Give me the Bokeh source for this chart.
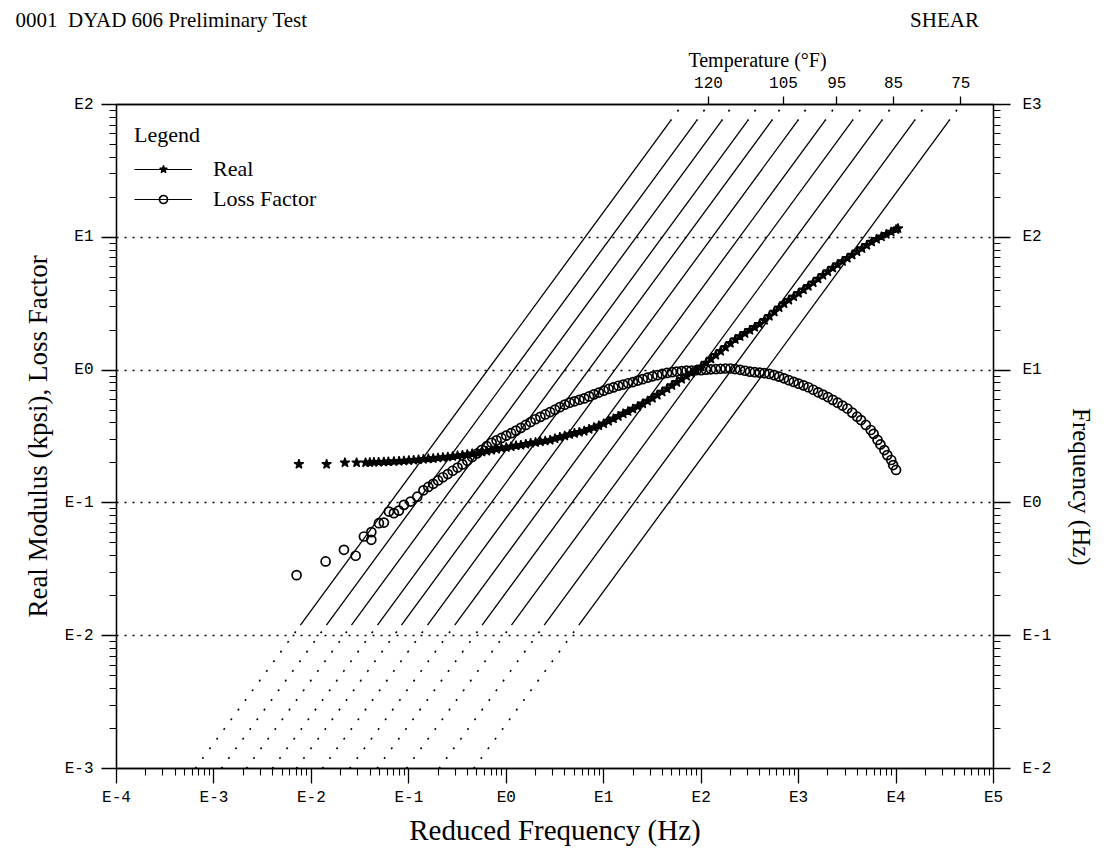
import math
from bokeh.plotting import figure
from bokeh.models import (Range1d, LogScale, LinearScale, LogAxis, LinearAxis, FixedTicker,
                          CustomJSTickFormatter, Legend, LegendItem)
from bokeh.embed import file_html
from bokeh.resources import INLINE

# Temperature lines (deg F) and their log10 shift factors a_T
temperatures_f = [125, 120, 115, 110, 105, 100, 95, 90, 85, 80, 75]
log_shift = [-1.192, -0.925, -0.668, -0.401, -0.155, 0.112, 0.392, 0.673, 0.974, 1.310, 1.665]
labelled_temps = [120, 105, 95, 85, 75]

# Tested frequency band (Hz) -> solid part of each isotherm; frequency axis span (Hz)
test_freq_min = 0.12
test_freq_max = 750.0
freq_axis_min = 0.01
freq_axis_max = 1000.0

# Real modulus (kpsi): (log10 reduced frequency, log10 modulus)
real_points = [
    (-2.128, -0.709), (-1.844, -0.709), (-1.656, -0.697), (-1.536, -0.697), (-1.444, -0.697),
    (-1.400, -0.695), (-1.358, -0.694), (-1.310, -0.693), (-1.256, -0.692), (-1.210, -0.690),
    (-1.153, -0.688), (-1.100, -0.686), (-1.050, -0.684),
    (-1.00, -0.681), (-0.95, -0.678), (-0.90, -0.675), (-0.85, -0.671), (-0.80, -0.668),
    (-0.75, -0.665), (-0.70, -0.661), (-0.65, -0.658), (-0.60, -0.654), (-0.55, -0.650),
    (-0.50, -0.645), (-0.45, -0.640), (-0.40, -0.635), (-0.35, -0.630), (-0.30, -0.623),
    (-0.25, -0.617), (-0.20, -0.610), (-0.15, -0.603), (-0.10, -0.595), (-0.05, -0.588),
    (0.00, -0.582), (0.05, -0.576), (0.10, -0.570), (0.15, -0.565), (0.20, -0.558),
    (0.25, -0.551), (0.30, -0.545), (0.35, -0.539), (0.40, -0.533), (0.45, -0.527),
    (0.50, -0.516), (0.55, -0.506), (0.60, -0.495), (0.65, -0.485), (0.70, -0.476),
    (0.75, -0.467), (0.80, -0.459), (0.85, -0.445), (0.90, -0.432), (0.95, -0.419),
    (1.00, -0.403), (1.05, -0.384), (1.10, -0.366), (1.15, -0.348), (1.20, -0.329),
    (1.25, -0.311), (1.30, -0.293), (1.35, -0.273), (1.40, -0.253), (1.45, -0.233),
    (1.50, -0.212), (1.55, -0.188), (1.60, -0.164), (1.65, -0.140), (1.70, -0.116),
    (1.75, -0.092), (1.80, -0.068), (1.85, -0.045), (1.90, -0.022), (1.95, 0.000),
    (2.00, 0.025), (2.05, 0.054), (2.10, 0.084), (2.15, 0.113), (2.20, 0.143),
    (2.25, 0.172), (2.30, 0.202), (2.35, 0.231), (2.40, 0.254), (2.45, 0.277),
    (2.50, 0.300), (2.55, 0.323), (2.60, 0.346), (2.65, 0.375), (2.70, 0.406),
    (2.75, 0.438), (2.80, 0.470), (2.85, 0.501), (2.90, 0.527), (2.95, 0.553),
    (3.00, 0.579), (3.05, 0.605), (3.10, 0.631), (3.15, 0.659), (3.20, 0.686),
    (3.25, 0.714), (3.30, 0.742), (3.35, 0.769), (3.40, 0.795), (3.45, 0.819),
    (3.50, 0.843), (3.55, 0.867), (3.60, 0.892), (3.65, 0.916), (3.70, 0.940),
    (3.75, 0.965), (3.80, 0.986), (3.85, 1.004), (3.90, 1.023), (3.95, 1.041),
    (4.00, 1.059), (4.02, 1.066),
]

# Loss factor: (log10 reduced frequency, log10 loss factor)
loss_points = [
    (-2.152, -1.544), (-1.854, -1.441), (-1.666, -1.353), (-1.546, -1.398), (-1.461, -1.253),
    (-1.385, -1.278), (-1.385, -1.220), (-1.307, -1.153), (-1.256, -1.148), (-1.204, -1.065),
    (-1.153, -1.077), (-1.102, -1.058), (-1.050, -1.015), (-0.982, -0.990), (-0.913, -0.953),
    (-0.85, -0.905), (-0.80, -0.880), (-0.75, -0.856), (-0.70, -0.831), (-0.65, -0.807),
    (-0.60, -0.783), (-0.55, -0.758), (-0.50, -0.734), (-0.45, -0.710), (-0.40, -0.683),
    (-0.35, -0.655), (-0.30, -0.628), (-0.25, -0.600), (-0.20, -0.573), (-0.15, -0.547),
    (-0.10, -0.529), (-0.05, -0.511), (0.00, -0.493), (0.05, -0.475), (0.10, -0.456),
    (0.15, -0.435), (0.20, -0.413), (0.25, -0.391), (0.30, -0.370), (0.35, -0.352),
    (0.40, -0.334), (0.45, -0.316), (0.50, -0.298), (0.55, -0.279), (0.60, -0.260),
    (0.65, -0.245), (0.70, -0.235), (0.75, -0.224), (0.80, -0.213), (0.85, -0.198),
    (0.90, -0.183), (0.95, -0.169), (1.00, -0.155), (1.05, -0.142), (1.10, -0.130),
    (1.15, -0.118), (1.20, -0.109), (1.25, -0.099), (1.30, -0.090), (1.35, -0.079),
    (1.40, -0.068), (1.45, -0.057), (1.50, -0.047), (1.55, -0.038), (1.60, -0.029),
    (1.65, -0.021), (1.70, -0.016), (1.75, -0.011), (1.80, -0.007), (1.85, -0.004),
    (1.90, -0.003), (1.95, -0.001), (2.00, 0.000), (2.05, 0.003), (2.10, 0.006),
    (2.15, 0.008), (2.20, 0.010), (2.25, 0.012), (2.30, 0.012), (2.35, 0.008),
    (2.40, 0.002), (2.45, -0.005), (2.50, -0.012), (2.55, -0.016), (2.60, -0.019),
    (2.65, -0.023), (2.70, -0.029), (2.75, -0.038), (2.80, -0.049), (2.85, -0.062),
    (2.90, -0.076), (2.95, -0.089), (3.00, -0.102), (3.05, -0.115), (3.10, -0.129),
    (3.15, -0.148), (3.20, -0.167), (3.25, -0.184), (3.30, -0.203), (3.35, -0.224),
    (3.40, -0.245), (3.45, -0.267), (3.50, -0.289), (3.55, -0.320), (3.60, -0.351),
    (3.64, -0.376), (3.69, -0.413), (3.74, -0.451), (3.77, -0.480), (3.81, -0.526),
    (3.84, -0.560), (3.88, -0.602), (3.91, -0.640), (3.95, -0.677), (3.97, -0.715),
    (4.00, -0.752),
]

# Header texts and their horizontal centres (page pixels)
header_texts = ["0001\u00a0 DYAD 606 Preliminary Test", "SHEAR"]
header_centres = [161, 944]
temp_caption = "Temperature (\u00b0F)"
temp_caption_centre = 757
freq_caption = "Frequency (Hz)"
freq_caption_centre = 408

SERIF = "Liberation Serif"
MONO = "Liberation Mono"
FRAME_LEFT, FRAME_RIGHT, FRAME_TOP, FRAME_BOTTOM = 116, 993, 104, 769

p = figure(width=1111, height=848, x_axis_type="log", y_axis_type="log",
           x_range=Range1d(1e-4, 1e5), y_range=Range1d(1e-3, 1e2),
           output_backend="svg", toolbar_location=None,
           min_border_left=FRAME_LEFT, min_border_right=1111 - FRAME_RIGHT,
           min_border_top=FRAME_TOP, min_border_bottom=848 - FRAME_BOTTOM)
p.extra_y_ranges = {"freq": Range1d(freq_axis_min, freq_axis_max),
                    "pagey": Range1d(FRAME_BOTTOM, FRAME_TOP)}
p.extra_y_scales = {"freq": LogScale(), "pagey": LinearScale()}
p.extra_x_ranges = {"page": Range1d(FRAME_LEFT, FRAME_RIGHT)}
p.extra_x_scales = {"page": LinearScale()}
p.background_fill_color = "white"
p.border_fill_color = "white"
p.outline_line_color = "black"
p.outline_line_width = 1.3

decade_fmt = CustomJSTickFormatter(code="return 'E' + Math.round(Math.log10(tick));")
nearest_code = """
let best = 0, bd = Infinity;
for (let i = 0; i < pos.length; i++) {
  const d = Math.abs(pos[i] - tick);
  if (d < bd) { bd = d; best = i; }
}
return lab[best];
"""


def decade_ticker(lo, hi):
    majors = [10.0 ** k for k in range(lo, hi + 1)]
    minors = [m * 10.0 ** k for k in range(lo, hi) for m in range(2, 10)]
    return FixedTicker(ticks=majors, minor_ticks=minors)


def style_axis(ax, tick_out=15, minor_out=7):
    ax.axis_line_color = "black"
    ax.axis_line_width = 1.3
    ax.major_tick_line_color = "black"
    ax.major_tick_line_width = 1.3
    ax.minor_tick_line_color = "black"
    ax.minor_tick_line_width = 1.1
    ax.major_tick_in = 0
    ax.major_tick_out = tick_out
    ax.minor_tick_in = 0
    ax.minor_tick_out = minor_out
    ax.major_label_text_font = MONO
    ax.major_label_text_font_size = "16px"
    ax.major_label_text_color = "black"
    ax.axis_label_text_font = SERIF
    ax.axis_label_text_font_style = "normal"
    ax.axis_label_text_color = "black"


def text_row(texts, centres, size, standoff, vertical=False):
    """A bare axis whose tick labels carry free-standing texts."""
    ticker = FixedTicker(ticks=centres, minor_ticks=[])
    fmt = CustomJSTickFormatter(args=dict(pos=centres, lab=texts), code=nearest_code)
    if vertical:
        ax = LinearAxis(y_range_name="pagey", ticker=ticker, formatter=fmt)
        ax.major_label_orientation = -math.pi / 2
    else:
        ax = LinearAxis(x_range_name="page", ticker=ticker, formatter=fmt)
    ax.axis_line_color = None
    ax.major_tick_line_color = None
    ax.minor_tick_line_color = None
    ax.major_tick_out = 0
    ax.minor_tick_out = 0
    ax.major_label_standoff = standoff
    ax.major_label_text_font = SERIF
    ax.major_label_text_font_size = size
    ax.major_label_text_color = "black"
    return ax


xa = p.xaxis[0]
xa.ticker = decade_ticker(-4, 5)
xa.formatter = decade_fmt
style_axis(xa)
xa.major_label_standoff = 5
xa.axis_label = "Reduced Frequency (Hz)"
xa.axis_label_text_font_size = "29px"
xa.axis_label_standoff = 4

ya = p.yaxis[0]
ya.ticker = decade_ticker(-3, 2)
ya.formatter = decade_fmt
style_axis(ya)
ya.major_label_standoff = 8
ya.axis_label = "Real Modulus (kpsi), Loss Factor"
ya.axis_label_text_font_size = "27px"
ya.axis_label_standoff = 9

ra = LogAxis(y_range_name="freq", ticker=decade_ticker(-2, 3), formatter=decade_fmt)
style_axis(ra, tick_out=17)
ra.major_label_standoff = 12
p.add_layout(ra, "right")
p.add_layout(text_row([freq_caption], [freq_caption_centre], "25px", 27, vertical=True), "right")

# Temperature scale: isotherm crossings of the top edge (f = freq_axis_max)
temp_pos = [freq_axis_max * 10.0 ** log_shift[temperatures_f.index(t)] for t in labelled_temps]
temp_fmt = CustomJSTickFormatter(
    args=dict(pos=temp_pos, lab=[str(t) for t in labelled_temps]),
    code="""
let best = 0, bd = Infinity;
for (let i = 0; i < pos.length; i++) {
  const d = Math.abs(Math.log10(pos[i]) - Math.log10(tick));
  if (d < bd) { bd = d; best = i; }
}
return lab[best];
""")
ta = LogAxis(ticker=FixedTicker(ticks=temp_pos, minor_ticks=[]), formatter=temp_fmt)
style_axis(ta, tick_out=8, minor_out=0)
ta.major_label_standoff = 9
p.add_layout(ta, "above")
p.add_layout(text_row([temp_caption], [temp_caption_centre], "20px", 3), "above")
p.add_layout(text_row(header_texts, header_centres, "21px", 14), "above")

p.xgrid.visible = False
p.ygrid.ticker = FixedTicker(ticks=[1e-2, 1e-1, 1.0, 10.0])
p.ygrid.grid_line_color = "black"
p.ygrid.grid_line_dash = "2 6"
p.ygrid.grid_line_width = 1.3

# Isotherms: reduced frequency = f * a_T
shifts = [10.0 ** s for s in log_shift]
solid_xs = [[test_freq_min * a, test_freq_max * a] for a in shifts]
solid_ys = [[test_freq_min, test_freq_max] for a in shifts]
low_xs = [[freq_axis_min * a, test_freq_min * a] for a in shifts]
low_ys = [[freq_axis_min, test_freq_min] for a in shifts]
high_xs = [[test_freq_max * a, freq_axis_max * a] for a in shifts]
high_ys = [[test_freq_max, freq_axis_max] for a in shifts]
p.multi_line(solid_xs, solid_ys, y_range_name="freq", line_color="black", line_width=1.3)
p.multi_line(low_xs + high_xs, low_ys + high_ys, y_range_name="freq",
             line_color="black", line_width=1.6, line_dash="2 10")

real_x = [10.0 ** a for a, b in real_points]
real_y = [10.0 ** b for a, b in real_points]
loss_x = [10.0 ** a for a, b in loss_points]
loss_y = [10.0 ** b for a, b in loss_points]

r_loss = p.scatter(loss_x, loss_y, marker="circle", size=9, fill_alpha=0,
                   line_color="black", line_width=1.7)
r_real = p.scatter(real_x, real_y, marker="star", size=10, fill_color="black",
                   line_color="black", line_width=1.3)

# hidden connecting lines, used only for the legend swatches
real_link = p.line(real_x, real_y, line_color="black", line_width=1.2, visible=False)
loss_link = p.line(loss_x, loss_y, line_color="black", line_width=1.2, visible=False)
legend = Legend(items=[LegendItem(label="Real", renderers=[real_link, r_real]),
                       LegendItem(label="Loss Factor", renderers=[loss_link, r_loss])],
                location="top_left", title="Legend",
                title_text_font=SERIF, title_text_font_size="22px", title_text_font_style="normal",
                title_text_color="black",
                label_text_font=SERIF, label_text_font_size="22px", label_text_color="black",
                glyph_width=58, glyph_height=20, label_standoff=21, spacing=4,
                padding=0, margin=18, title_standoff=8,
                border_line_alpha=0, background_fill_alpha=0)
p.add_layout(legend)

open("out.html", "w").write(file_html(p, INLINE))
